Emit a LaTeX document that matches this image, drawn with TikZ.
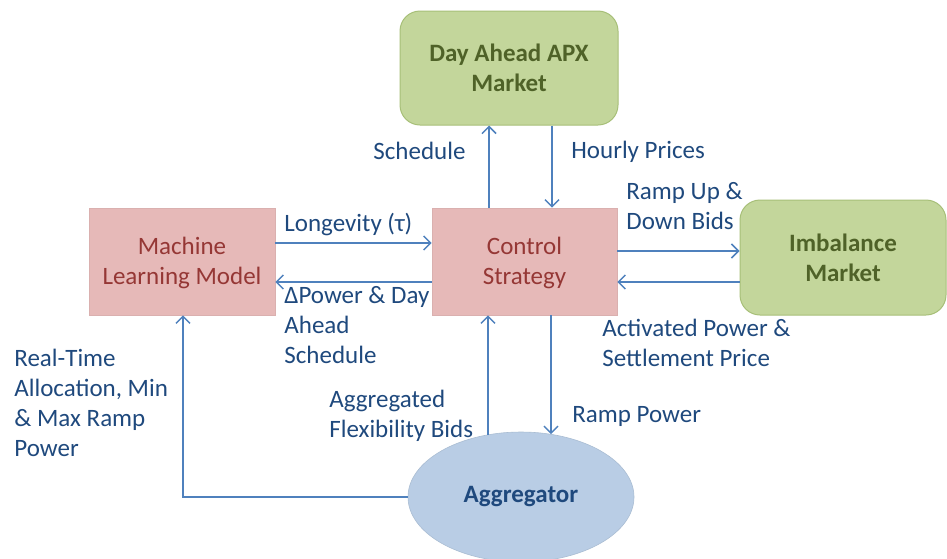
\documentclass[tikz,border=0pt]{standalone}
\usepackage{fontspec}
\setmainfont{Carlito}
\usetikzlibrary{arrows.meta,shapes.geometric}
\definecolor{lbl}{HTML}{1F497D}
\definecolor{arrc}{HTML}{4F81BD}
\definecolor{grnfill}{HTML}{C3D69B}
\definecolor{grntext}{HTML}{4F6228}
\definecolor{grnline}{HTML}{A7BF78}
\definecolor{pinkfill}{HTML}{E6B9B8}
\definecolor{pinktext}{HTML}{953735}
\definecolor{aggfill}{HTML}{B9CDE5}
\begin{document}
\begin{tikzpicture}[x=0.5pt,y=-0.5pt,
  every node/.style={font=\fontsize{12.5}{15}\selectfont},
  pinkbox/.style={rectangle, fill=pinkfill, draw=pinkfill!95!black, line width=0.3pt, text=pinktext, align=center, inner sep=0pt},
  greenbox/.style={rectangle, rounded corners=10pt, fill=grnfill, draw=grnline, line width=0.5pt, text=grntext, font=\fontsize{12.5}{15}\selectfont\bfseries, align=center, inner sep=0pt},
  aggnode/.style={ellipse, fill=aggfill, draw=aggfill!92!black, line width=0.3pt, text=lbl, font=\fontsize{12.5}{15}\selectfont\bfseries, inner sep=0pt},
  lab/.style={text=lbl, align=left, anchor=north west, inner sep=0pt, execute at begin node=\strut},
  arr/.style={draw=arrc, line width=0.75pt, -{Straight Barb[length=3.5pt,width=7pt]}},
]
\useasboundingbox (0,0) rectangle (947,558);

\node[greenbox, minimum width=109pt, minimum height=57pt] (da) at (509,68) {Day Ahead APX\\Market};
\node[pinkbox, minimum width=93pt, minimum height=53.5pt] (ml) at (182,261.5) {\strut Machine\\Learning Model};
\node[pinkbox, minimum width=92.5pt, minimum height=53.5pt] (cs) at (524.5,261.5) {\strut Control\\Strategy};
\node[greenbox, minimum width=103pt, minimum height=57.5pt] (im) at (843,257.5) {Imbalance\\Market};
\node[aggnode, minimum width=113pt, minimum height=65pt] (agg) at (521,497) {Aggregator};

\coordinate (xa) at (489,0);
\coordinate (xb) at (552,0);
\coordinate (xc) at (488,0);
\coordinate (xd) at (551,0);
\coordinate (xe) at (183,0);
\coordinate (ya) at (0,243);
\coordinate (yb) at (0,282);
\coordinate (yc) at (0,251);

\draw[arr] (cs.north -| xa) -- (da.south -| xa);
\draw[arr] (da.south -| xb) -- (cs.north -| xb);
\draw[arr] (ml.east |- ya) -- (cs.west |- ya);
\draw[arr] (cs.west |- yb) -- (ml.east |- yb);
\draw[arr] (cs.east |- yc) -- (im.west |- yc);
\draw[arr] (im.west |- yb) -- (cs.east |- yb);
\draw[arr] (xc |- agg.118) -- (cs.south -| xc);
\draw[arr] (cs.south -| xd) -- (xd |- agg.64);
\draw[arr] (agg.west) -| (ml.south -| xe);

\node[lab] (l1) at (373,138) {Schedule};
\node[lab] (l2) at (571,137) {Hourly Prices};
\node[lab] (l3) at (626,182) {Ramp Up \&\\Down Bids};
\node[lab] (l4) at (284,210) {Longevity (τ)};
\node[lab] (l5) at (284,286) {ΔPower \& Day\\Ahead\\Schedule};
\node[lab] (l6) at (602,319) {Activated Power \&\\Settlement Price};
\node[lab] (l7) at (14,349) {Real-Time\\Allocation, Min\\\& Max Ramp\\Power};
\node[lab] (l8) at (329,390) {Aggregated\\Flexibility Bids};
\node[lab] (l9) at (572,401) {Ramp Power};
\end{tikzpicture}
\end{document}
